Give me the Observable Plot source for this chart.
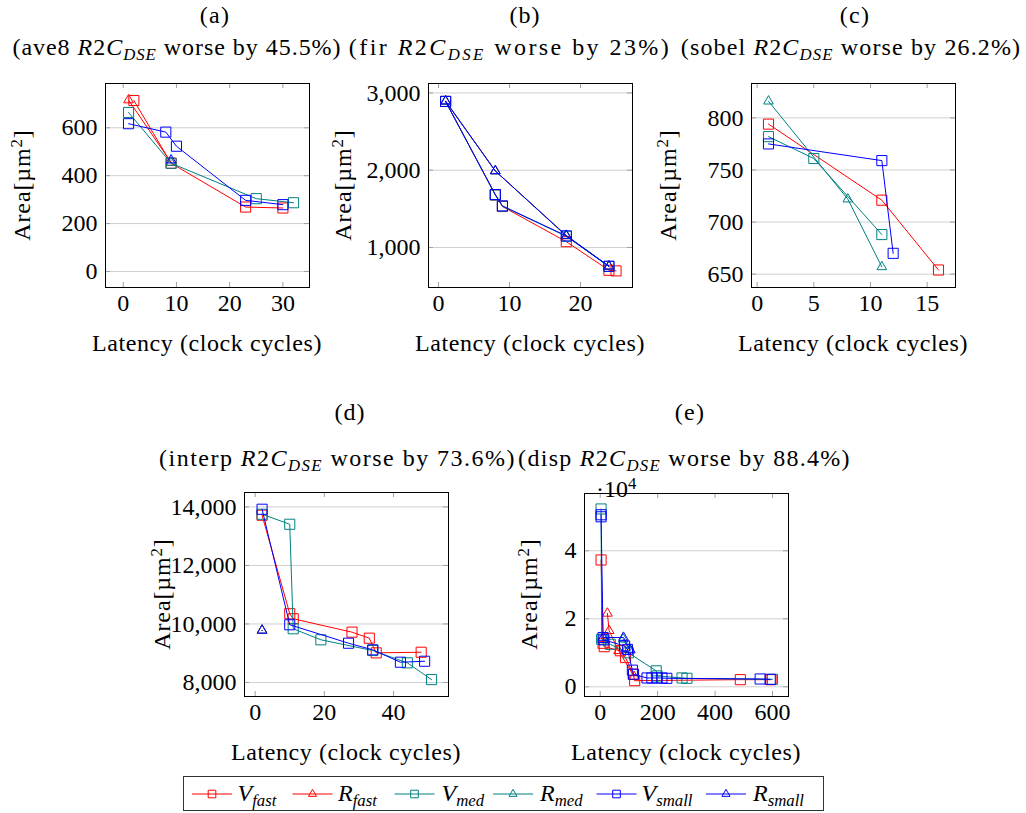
<!DOCTYPE html>
<html>
<head>
<meta charset="utf-8">
<script src="https://cdn.jsdelivr.net/npm/d3@7"></script>
<script src="https://cdn.jsdelivr.net/npm/@observablehq/plot@0.6"></script>
<style>
  body { margin: 0; background: #fff; }
  #root { position: relative; width: 1026px; height: 813px; color: #000; overflow: hidden; }
  .t { position: absolute; white-space: nowrap; font-size: 24px; line-height: 1; transform: translate(-50%, -50%); }
  .t sub { font-size: 0.7em; vertical-align: -0.3em; line-height: 0; }
  .t sup { font-size: 0.7em; vertical-align: 0.5em; line-height: 0; }
  .rot { transform: translate(-50%, -50%) rotate(-90deg); }
</style>
</head>
<body>
<div id="root"></div>
<script>
// ---------- data: [latency, area] pairs per series ----------
const seriesNames = ["Vfast", "Rfast", "Vmed", "Rmed", "Vsmall", "Rsmall"];
const seriesLabels = [["V","fast"],["R","fast"],["V","med"],["R","med"],["V","small"],["R","small"]];

// (a) ave8
const a_Vfast  = [[2,714],[9,452],[23,269],[30,265]];
const a_Rfast  = [[1,716],[9,455]];
const a_Vmed   = [[1,664],[9,452],[25,304],[32,287]];
const a_Rmed   = [[9,455]];
const a_Vsmall = [[1,617],[8,582],[10,523],[23,297],[30,279]];
const a_Rsmall = [[9,465]];

// (b) fir
const b_Vfast  = [[1,2890],[8,1680],[9,1530],[18,1075],[24,705],[25,697]];
const b_Rfast  = [[1,2890],[8,1990],[18,1150],[24,755]];
const b_Vmed   = [[1,2890],[8,1680],[9,1535],[18,1145],[24,755]];
const b_Rmed   = [[1,2890],[8,1990],[18,1150],[24,755]];
const b_Vsmall = [[1,2890],[8,1685],[9,1538],[18,1150],[24,757]];
const b_Rsmall = [[1,2895],[8,1990],[18,1155],[24,757]];

// (c) sobel
const c_Vfast  = [[1,794],[11,721],[16,654]];
const c_Rfast  = [];
const c_Vmed   = [[1,782],[5,761],[11,688]];
const c_Rmed   = [[1,816],[8,722],[11,657]];
const c_Vsmall = [[1,775],[11,759],[12,670]];
const c_Rsmall = [];

// (d) interp
const d_Vfast  = [[2,13716],[10,10349],[11,10178],[28,9720],[33,9514],[35,9013],[48,9034]];
const d_Rfast  = [[2,9780]];
const d_Vmed   = [[2,13750],[10,13408],[11,9836],[19,9459],[34,9092],[44,8671],[51,8099]];
const d_Rmed   = [[2,9780]];
const d_Vsmall = [[2,13921],[10,9973],[27,9342],[34,9116],[42,8692],[49,8726]];
const d_Rsmall = [[2,9780]];

// (e) disp
const e_Vfast  = [[3,37300],[10,12800],[14,11800],[70,10600],[88,8600],[115,3700],[120,1800],[488,2100],[595,2100]];
const e_Rfast  = [[25,21600],[31,16500],[64,10600],[118,3000]];
const e_Vmed   = [[3,52300],[5,14000],[35,12500],[98,10000],[195,4700],[198,3200],[285,2600],[302,2500],[600,2200]];
const e_Rmed   = [[80,14000],[100,11000]];
const e_Vsmall = [[3,50600],[3,50000],[10,14500],[13,13800],[85,12000],[95,11000],[112,4900],[116,3700],[163,2600],[180,2600],[198,2600],[215,2600],[232,2500],[557,2300],[592,2200]];
const e_Rsmall = [[10,14500],[81,14500],[105,10800]];

// tick values
const a_xTicks = [0,10,20,30],  a_yTicks = [0,200,400,600];
const b_xTicks = [0,10,20],     b_yTicks = [1000,2000,3000];
const c_xTicks = [0,5,10,15],   c_yTicks = [650,700,750,800];
const d_xTicks = [0,20,40],     d_yTicks = [8000,10000,12000,14000];
const e_xTicks = [0,200,400,600], e_yTicks = [0,20000,40000];

// titles
const panelLetters = ["(a)","(b)","(c)","(d)","(e)"];
const benchmarks = ["ave8","fir","sobel","interp","disp"];
const worseBy = ["45.5%","23%","26.2%","73.6%","88.4%"];

// ---------- styles ----------
const COLOR = {Vfast:"#ff0000", Rfast:"#ff0000", Vmed:"#008080", Rmed:"#008080", Vsmall:"#0000ff", Rsmall:"#0000ff"};
const SYMBOL = {Vfast:"square", Rfast:"triangle", Vmed:"square", Rmed:"triangle", Vsmall:"square", Rsmall:"triangle"};
const RADIUS = {square: 5.7, triangle: 3.6};

// pick an installed serif font
function hasFont(name) {
  const ctx = document.createElement("canvas").getContext("2d");
  const s = "abcdefghijklmnopqrstuvwxyzABCDEFGHIJKLMNOPQRSTUVWXYZ0123456789(),.%";
  return ["monospace", "sans-serif"].every(g => {
    ctx.font = `40px ${g}`; const w0 = ctx.measureText(s).width;
    ctx.font = `40px "${name}", ${g}`; const w1 = ctx.measureText(s).width;
    return Math.abs(w1 - w0) > 0.5;
  });
}
const fontCandidates = ["Liberation Serif", "Tinos", "Times New Roman", "DejaVu Serif", "Noto Serif", "FreeSerif"];
const picked = fontCandidates.find(hasFont);
const FONT = picked ? `"${picked}", serif` : "serif";

const root = document.getElementById("root");
root.style.fontFamily = FONT;

function text(html, x, y, {rot=false, width=null, size=24} = {}) {
  const el = document.createElement("div");
  el.className = "t" + (rot ? " rot" : "");
  el.style.left = x + "px";
  el.style.top = y + "px";
  el.style.fontSize = size + "px";
  el.style.fontFamily = FONT;
  el.innerHTML = html;
  root.appendChild(el);
  if (width) {
    const n = el.textContent.length;
    el.style.letterSpacing = ((width - el.offsetWidth) / n) + "px";
  }
  return el;
}

function panel({series, xDomain, yDomain, xTicks, yTicks, yFormat, fx, fy, fw, fh}) {
  const ML = 100, MR = 14, MT = 14, MB = 46;
  const marks = [
    Plot.ruleY(yTicks, {y: d => d, stroke: "#cfcfcf", strokeWidth: 1}),
    Plot.tickX(xTicks, {x: d => d, insetTop: fh - 5, stroke: "#a0a0a0"}),
    Plot.tickX(xTicks, {x: d => d, insetBottom: fh - 5, stroke: "#a0a0a0"}),
    Plot.tickY(yTicks, {y: d => d, insetRight: fw - 5, stroke: "#a0a0a0"}),
    Plot.tickY(yTicks, {y: d => d, insetLeft: fw - 5, stroke: "#a0a0a0"}),
    Plot.axisX({ticks: xTicks, tickSize: 0, tickPadding: 6, label: null, tickFormat: d => String(d)}),
    Plot.axisY({ticks: yTicks, tickSize: 0, tickPadding: 8, label: null, tickFormat: yFormat})
  ];
  seriesNames.forEach((name, i) => {
    const rows = series[i].map(([x, y]) => ({x, y}));
    if (!rows.length) return;
    marks.push(Plot.line(rows, {x: "x", y: "y", stroke: COLOR[name], strokeWidth: 1}));
    marks.push(Plot.dot(rows, {x: "x", y: "y", symbol: SYMBOL[name], r: RADIUS[SYMBOL[name]], stroke: COLOR[name], fill: "none", strokeWidth: 1}));
  });
  marks.push(Plot.frame({stroke: "#000", strokeWidth: 1}));
  const svg = Plot.plot({
    width: fw + ML + MR, height: fh + MT + MB,
    marginLeft: ML, marginRight: MR, marginTop: MT, marginBottom: MB,
    x: {type: "linear", domain: xDomain, label: null},
    y: {type: "linear", domain: yDomain, label: null},
    style: {fontFamily: FONT, fontSize: "24px", background: "transparent", overflow: "visible", color: "#000"},
    marks
  });
  svg.style.position = "absolute";
  svg.style.left = (fx - ML) + "px";
  svg.style.top = (fy - MT) + "px";
  root.appendChild(svg);
}

const comma = d3.format(",");
panel({series: [a_Vfast,a_Rfast,a_Vmed,a_Rmed,a_Vsmall,a_Rsmall], xDomain: [-3.33, 35], yDomain: [-67, 785],
  xTicks: a_xTicks, yTicks: a_yTicks, yFormat: d => String(d), fx: 105, fy: 83, fw: 204, fh: 204});
panel({series: [b_Vfast,b_Rfast,b_Vmed,b_Rmed,b_Vsmall,b_Rsmall], xDomain: [-1.41, 27.32], yDomain: [482, 3122],
  xTicks: b_xTicks, yTicks: b_yTicks, yFormat: comma, fx: 428, fy: 83, fw: 204, fh: 204});
panel({series: [c_Vfast,c_Rfast,c_Vmed,c_Rmed,c_Vsmall,c_Rsmall], xDomain: [-0.5, 17.5], yDomain: [637.2, 833],
  xTicks: c_xTicks, yTicks: c_yTicks, yFormat: d => String(d), fx: 751, fy: 83, fw: 204, fh: 204});
panel({series: [d_Vfast,d_Rfast,d_Vmed,d_Rmed,d_Vsmall,d_Rsmall], xDomain: [-3.08, 55.9], yDomain: [7521, 14493],
  xTicks: d_xTicks, yTicks: d_yTicks, yFormat: comma, fx: 244, fy: 492, fw: 204, fh: 204});
panel({series: [e_Vfast,e_Rfast,e_Vmed,e_Rmed,e_Vsmall,e_Rsmall], xDomain: [-54.7, 655.7], yDomain: [-2850, 56850],
  xTicks: e_xTicks, yTicks: e_yTicks, yFormat: d => String(d / 10000), fx: 584, fy: 493, fw: 204, fh: 203});

// ---------- titles and labels ----------
const titlePos = [[215,15],[525,15],[855,15],[350,412],[690,412]];
// [centre x, centre y, width]
const subPos = [[177,47,329],[510,47,322],[851,47,340],[337.5,458,357],[684.5,458,333]];
const sub = i => `(${benchmarks[i]} <i>R</i>2<i>C</i><sub><i>DSE</i></sub> worse by ${worseBy[i]})`;
panelLetters.forEach((t, i) => {
  text(t, titlePos[i][0], titlePos[i][1], {width: 31});
  text(sub(i), subPos[i][0], subPos[i][1], {width: subPos[i][2]});
});

const frameCenters = [[207,185,287],[530,185,287],[853,185,287],[346,594,696],[686,594,696]];
const yLabelX = [22, 343, 668, 162, 529];
frameCenters.forEach(([cx, cy, bottom], i) => {
  text("Latency (clock cycles)", cx, bottom + 56, {width: 230});
  text("Area[µm<sup>2</sup>]", yLabelX[i], cy, {rot: true, width: 112});
});
// exponent for (e)
const ex = text("·10<sup>4</sup>", 0, 489);
ex.style.transform = "translate(0,-50%)";
ex.style.left = "596px";

// ---------- legend ----------
const legend = document.createElement("div");
Object.assign(legend.style, {position: "absolute", left: "183px", top: "776px", width: "641px", height: "35px",
  border: "1px solid #333", boxSizing: "border-box", background: "#fff"});
root.appendChild(legend);
const legLineX = [192, 292.5, 394.5, 493, 596.5, 706];
const legLabelX = [237.5, 338, 441.5, 540, 641.5, 753];
const ns = "http://www.w3.org/2000/svg";
const lsvg = document.createElementNS(ns, "svg");
lsvg.setAttribute("width", 1026); lsvg.setAttribute("height", 813);
Object.assign(lsvg.style, {position: "absolute", left: "0px", top: "0px", overflow: "visible"});
root.appendChild(lsvg);
seriesNames.forEach((name, i) => {
  const x0 = legLineX[i], x1 = x0 + 40, yc = 794;
  const ln = document.createElementNS(ns, "line");
  ln.setAttribute("x1", x0); ln.setAttribute("x2", x1); ln.setAttribute("y1", yc); ln.setAttribute("y2", yc);
  ln.setAttribute("stroke", COLOR[name]); ln.setAttribute("stroke-width", 1);
  lsvg.appendChild(ln);
  const p = document.createElementNS(ns, "path");
  const sym = SYMBOL[name] === "square" ? d3.symbolSquare : d3.symbolTriangle;
  const rr = SYMBOL[name] === "square" ? 4.3 : 3.0;
  p.setAttribute("d", d3.symbol(sym, Math.PI * rr * rr)());
  p.setAttribute("transform", `translate(${(x0 + x1) / 2},${yc})`);
  p.setAttribute("fill", "none"); p.setAttribute("stroke", COLOR[name]);
  lsvg.appendChild(p);
  const lab = text(`<i>${seriesLabels[i][0]}</i><sub><i>${seriesLabels[i][1]}</i></sub>`, 0, 793);
  lab.style.transform = "translate(0,-50%)";
  lab.style.left = legLabelX[i] + "px";
});
</script>
</body>
</html>
